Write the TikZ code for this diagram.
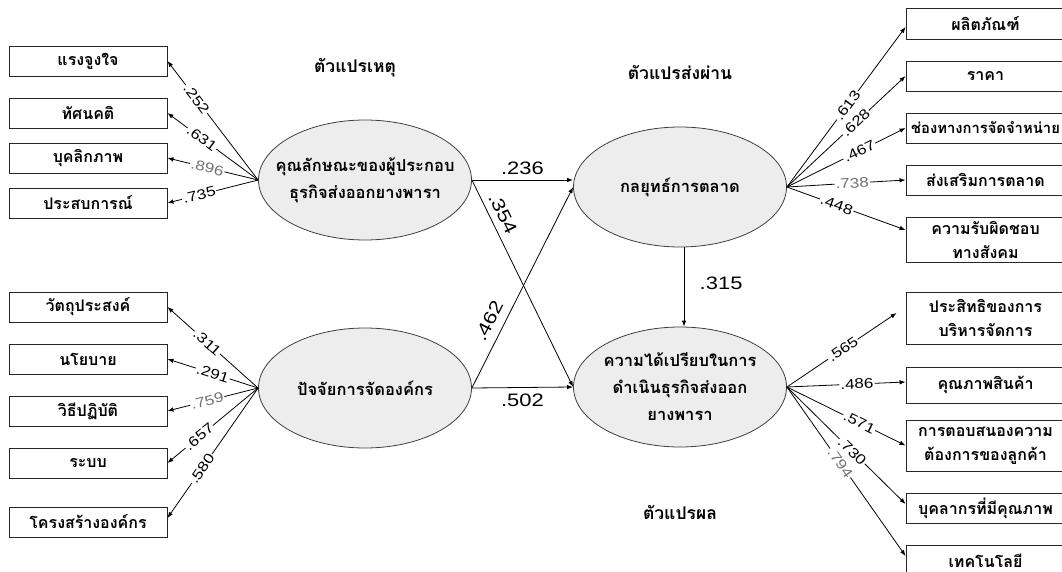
\documentclass[tikz,border=0pt]{standalone}
\usepackage{fontspec}
\setmainfont{Liberation Sans}
\newfontfamily\thaifont[Script=Thai]{Loma}
\usetikzlibrary{shapes.geometric,arrows.meta}
\newcommand{\widenum}[1]{\scalebox{1.22}[1]{#1}}
\begin{document}
\begin{tikzpicture}[x=1pt,y=-1pt,
  box/.style={draw=black!85,line width=0.9pt,fill=white,inner sep=0pt,align=center,font=\thaifont\bfseries\fontsize{16}{24}\selectfont},
  lv/.style={draw=black!75,line width=0.8pt,fill=black!7,ellipse,minimum width=213pt,minimum height=120pt,inner sep=0pt},
  lvt/.style={align=center,inner sep=0pt,font=\thaifont\bfseries\fontsize{16.5}{27}\selectfont},
  con/.style={-{Latex[length=6pt,width=4.5pt]},line width=0.8pt},
  lbl/.style={sloped,fill=white,inner sep=1pt,font=\fontsize{14}{14}\selectfont},
  glbl/.style={lbl,text=black!55},
  big/.style={font=\fontsize{18}{18}\selectfont},
  sect/.style={font=\thaifont\bfseries\fontsize{17.5}{20}\selectfont}
]
\useasboundingbox (0,0) rectangle (1062,572);
% section titles
\node[sect] (s1) at (355,68) {ตัวแปรเหตุ};
\node[sect] (s2) at (680,72) {ตัวแปรส่งผ่าน};
\node[sect] (s3) at (680,512) {ตัวแปรผล};
% latent variables
\node[lv,label={[lvt]center:{คุณลักษณะของผู้ประกอบ\\ธุรกิจส่งออกยางพารา}}] (e1) at (365,180) {};
\node[lv,label={[lvt]center:{ปัจจัยการจัดองค์กร}}] (e2) at (365,388) {};
\node[lv,label={[lvt]center:{กลยุทธ์การตลาด}}] (e3) at (680,187) {};
\node[lv,label={[lvt]center:{ความได้เปรียบในการ\\ดำเนินธุรกิจส่งออก\\ยางพารา}}] (e4) at (680,387) {};
% left top boxes
\node[box,minimum width=158pt,minimum height=30pt] (a1) at (88,61) {แรงจูงใจ};
\node[box,minimum width=158pt,minimum height=30pt] (a2) at (88,113) {ทัศนคติ};
\node[box,minimum width=158pt,minimum height=30pt] (a3) at (88,158) {บุคลิกภาพ};
\node[box,minimum width=158pt,minimum height=30pt] (a4) at (88,203) {ประสบการณ์};
% left bottom boxes
\node[box,minimum width=158pt,minimum height=30pt] (b1) at (88,307) {วัตถุประสงค์};
\node[box,minimum width=158pt,minimum height=30pt] (b2) at (88,359) {นโยบาย};
\node[box,minimum width=158pt,minimum height=30pt] (b3) at (88,411) {วิธีปฏิบัติ};
\node[box,minimum width=158pt,minimum height=30pt] (b4) at (88,463) {ระบบ};
\node[box,minimum width=158pt,minimum height=30pt] (b5) at (88,522) {โครงสร้างองค์กร};
% right top boxes
\node[box,minimum width=159pt,minimum height=31pt] (c1) at (985.5,23.5) {ผลิตภัณฑ์};
\node[box,minimum width=159pt,minimum height=30pt] (c2) at (985.5,76) {ราคา};
\node[box,minimum width=159pt,minimum height=30pt,font=\thaifont\bfseries\fontsize{14.8}{20}\selectfont] (c3) at (985.5,128) {ช่องทางการจัดจำหน่าย};
\node[box,minimum width=159pt,minimum height=45pt] (c5) at (985.5,239.5) {ความรับผิดชอบ\\ทางสังคม};
\node[box,minimum width=159pt,minimum height=30pt] (c4) at (985.5,180) {ส่งเสริมการตลาด};
% right bottom boxes
\node[box,minimum width=159pt,minimum height=52pt] (d1) at (985.5,318) {ประสิทธิของการ\\บริหารจัดการ};
\node[box,minimum width=159pt,minimum height=36pt] (d2) at (985.5,385) {คุณภาพสินค้า};
\node[box,minimum width=159pt,minimum height=51pt] (d3) at (985.5,445.5) {การตอบสนองความ\\ต้องการของลูกค้า};
\node[box,minimum width=159pt,minimum height=30pt] (d4) at (985.5,508) {บุคลากรที่มีคุณภาพ};
\node[box,minimum width=159pt,minimum height=31pt] (d5) at (985.5,560.5) {เทคโนโลยี};
% left top loadings
\draw[con] (e1.west) -- node[lbl,pos=0.68] {\widenum{.252}} (a1.east);
\draw[con] (e1.west) -- node[lbl,pos=0.62] {\widenum{.631}} (a2.east);
\draw[con] (e1.west) -- node[glbl,pos=0.56] {\widenum{.896}} (a3.east);
\draw[con] (e1.west) -- node[lbl,pos=0.65] {\widenum{.735}} (a4.east);
% left bottom loadings
\draw[con] (e2.west) -- node[lbl,pos=0.56] {\widenum{.311}} (b1.east);
\draw[con] (e2.west) -- node[lbl,pos=0.5] {\widenum{.291}} (b2.east);
\draw[con] (e2.west) -- node[glbl,pos=0.56] {\widenum{.759}} (b3.east);
\draw[con] (e2.west) -- node[lbl,pos=0.65] {\widenum{.657}} (b4.east);
\draw[con] (e2.west) -- node[lbl,pos=0.62] {\widenum{.580}} ([yshift=4pt]b5.east);
% right top loadings
\draw[con] (e3.east) -- node[lbl,pos=0.51] {\widenum{.613}} ([yshift=-3.5pt]c1.west);
\draw[con] (e3.east) -- node[lbl,pos=0.58] {\widenum{.628}} (c2.west);
\draw[con] (e3.east) -- node[lbl,pos=0.61] {\widenum{.467}} (c3.west);
\draw[con] (e3.east) -- node[glbl,pos=0.55] {\widenum{.738}} (c4.west);
\draw[con] (e3.east) -- node[lbl,pos=0.42] {\widenum{.448}} ([yshift=9.5pt]c5.west);
% right bottom loadings
\draw[con] (e4.east) -- node[lbl,pos=0.51] {\widenum{.565}} ([xshift=-9pt,yshift=5pt]d1.west);
\draw[con] (e4.east) -- node[lbl,pos=0.59] {\widenum{.486}} ([yshift=3pt]d2.west);
\draw[con] (e4.east) -- node[lbl,pos=0.61] {\widenum{.571}} (d3.west);
\draw[con] (e4.east) -- node[lbl,pos=0.55] {\widenum{.730}} ([yshift=4pt]d4.west);
\draw[con] (e4.east) -- node[glbl,pos=0.45] {\widenum{.794}} ([yshift=4.5pt]d5.west);
% structural paths
\draw[con] (e1.east) -- node[above=2pt,big] {\widenum{.236}} (e1.east -| e3.west);
\draw[con] (e1.east) -- node[sloped,above=3pt,pos=0.19,big] {\widenum{.354}} (e4.west);
\draw[con] (e2.east) -- node[sloped,above=5pt,pos=0.3,big] {\widenum{.462}} (e3.west);
\draw[con] (e2.east) -- node[below=3pt,big] {\widenum{.502}} (e4.west);
\draw[con] ([xshift=4pt]e3.south) -- node[right=12pt,pos=0.45,big] {\widenum{.315}} ([xshift=4pt]e4.north);
\end{tikzpicture}
\end{document}
